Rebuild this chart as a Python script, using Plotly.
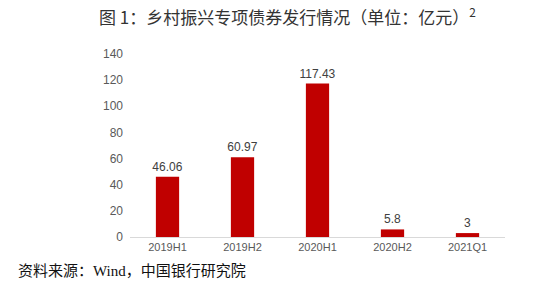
import plotly.graph_objects as go

categories = ["2019H1", "2019H2", "2020H1", "2020H2", "2021Q1"]
values = [46.06, 60.97, 117.43, 5.8, 3]
labels = ["46.06", "60.97", "117.43", "5.8", "3"]
y_ticks = [0, 20, 40, 60, 80, 100, 120, 140]

fig = go.Figure()
fig.add_trace(go.Bar(
    x=categories, y=values, width=0.31,
    marker=dict(color="#C00000", line=dict(width=0)),
    text=labels, textposition="outside", constraintext="none",
    textfont=dict(size=12, color="#404040", family="Liberation Sans, Arial"),
    cliponaxis=False,
))

fig.update_layout(
    width=550, height=300,
    margin=dict(l=130, r=45, t=54, b=63),
    paper_bgcolor="white", plot_bgcolor="white",
    showlegend=False,
    font=dict(family="Liberation Sans, Noto Sans CJK SC", color="#595959"),
    xaxis=dict(showline=True, linecolor="#D9D9D9", linewidth=1, ticks="",
               tickfont=dict(size=11, color="#595959")),
    yaxis=dict(range=[0, 140], tickvals=y_ticks, showgrid=False, zeroline=False,
               showline=False, tickfont=dict(size=12, color="#595959"), ticklabelstandoff=6),
    annotations=[
        dict(text="图 1：乡村振兴专项债券发行情况（单位：亿元）<sup>2</sup>",
             x=287, y=16, xref="paper", yref="paper", showarrow=False,
             font=dict(size=17, color="#333333", family="Noto Sans CJK SC")),
        dict(text="资料来源：Wind，中国银行研究院",
             x=16, y=270, xref="paper", yref="paper", showarrow=False,
             xanchor="left",
             font=dict(size=15, color="#111111", family="Liberation Serif, Noto Sans CJK SC")),
    ],
)
# position annotations in pixel terms by converting to paper coordinates
pw = 550 - 130 - 45
ph = 300 - 54 - 63
anns = list(fig.layout.annotations)
for a in anns:
    px, py = a.x, a.y
    a.x = (px - 130) / pw
    a.y = 1 - (py - 54) / ph
    a.yanchor = "middle"
fig.update_layout(annotations=anns)

fig.write_html("out.html")
